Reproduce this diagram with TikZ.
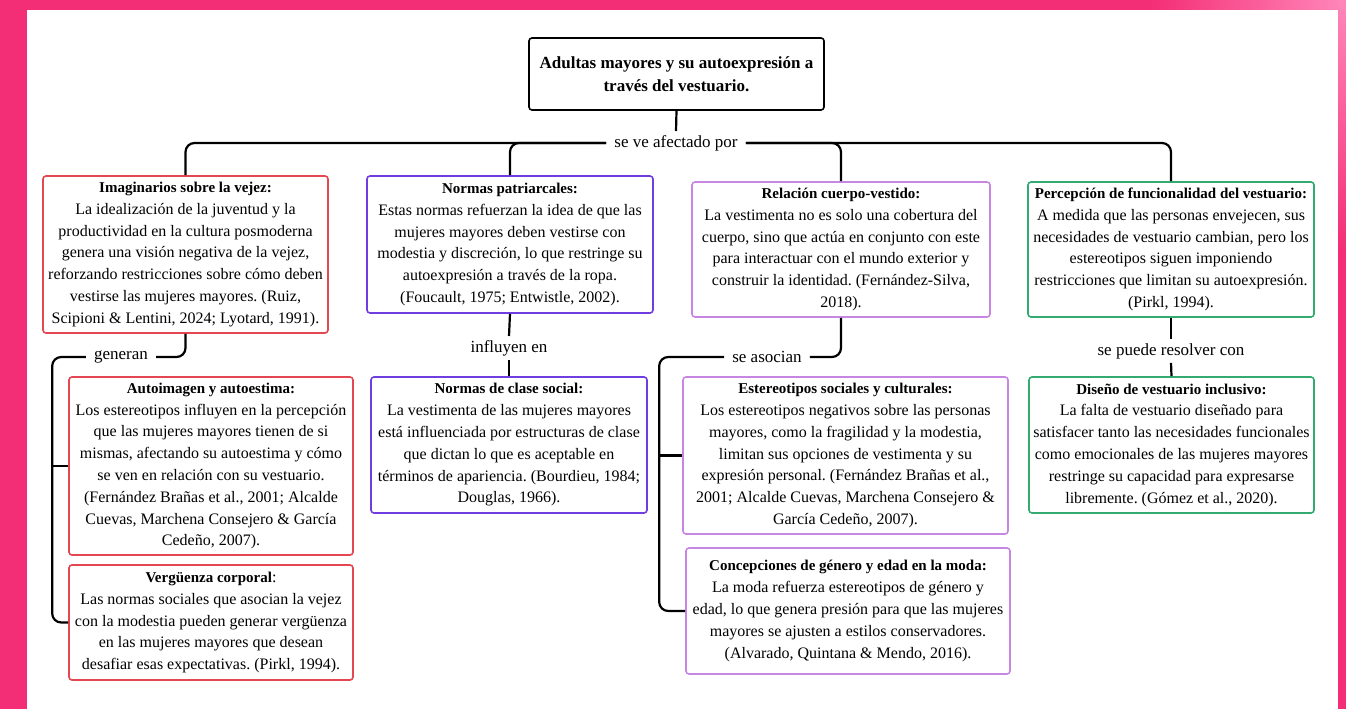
\documentclass[tikz,border=0pt]{standalone}
\usepackage{fontspec}
\setmainfont{Liberation Serif}
\usetikzlibrary{positioning}
\usetikzlibrary{calc}

\definecolor{fondo}{RGB}{244,46,118}
\definecolor{fondoclaro}{RGB}{255,135,185}
\definecolor{rojo}{RGB}{228,70,82}
\definecolor{violeta}{RGB}{112,62,224}
\definecolor{lila}{RGB}{198,134,226}
\definecolor{verde}{RGB}{50,170,112}

\newcommand{\tit}[1]{{\bfseries\fontsize{15}{21.8}\selectfont #1}}

\tikzset{
  caja/.style={draw, line width=1.6pt, rounded corners=3pt, fill=white, align=center,
    inner xsep=1pt, inner ysep=1pt, font=\fontsize{16}{21.8}\selectfont\frenchspacing},
  enlace/.style={line width=2.2pt, rounded corners=9pt},
  etiqueta/.style={fill=white, inner xsep=8pt, inner ysep=4pt, font=\fontsize{17}{20}\selectfont},
}

\begin{document}
\begin{tikzpicture}[x=1pt, y=-1pt]

\fill[fondo] (0,0) rectangle (1346,709);
\shade[left color=fondo, right color=fondoclaro] (1150,0) rectangle (1346,10);
\shade[top color=fondoclaro, bottom color=fondo] (1338,0) rectangle (1346,250);
\fill[white] (27,10) rectangle (1338,709);
\useasboundingbox (0,0) rectangle (1346,709);

\node[caja, draw=black, minimum width=295pt, minimum height=72pt,
  font=\bfseries\fontsize{17}{23}\selectfont] (raiz) at (676.5,74)
  {Adultas mayores y su autoexpresión a\\través del vestuario.};

\node[etiqueta] (sva) at (676,143) {se ve afectado por};

% primer nivel
\node[caja, draw=rojo, minimum width=285pt, minimum height=157pt] (imag) at (185.5,254.5)
  {\tit{Imaginarios sobre la vejez:}\\
   La idealización de la juventud y la\\
   productividad en la cultura posmoderna\\
   genera una visión negativa de la vejez,\\
   reforzando restricciones sobre cómo deben\\
   vestirse las mujeres mayores. (Ruiz,\\
   Scipioni \& Lentini, 2024; Lyotard, 1991).};

\node[caja, draw=violeta, minimum width=286pt, minimum height=137pt] (patr) at (510,244.5)
  {\tit{Normas patriarcales:}\\
   Estas normas refuerzan la idea de que las\\
   mujeres mayores deben vestirse con\\
   modestia y discreción, lo que restringe su\\
   autoexpresión a través de la ropa.\\
   (Foucault, 1975; Entwistle, 2002).};

\node[caja, draw=lila, minimum width=298pt, minimum height=135pt] (cuer) at (841,249.5)
  {\tit{Relación cuerpo-vestido:}\\
   La vestimenta no es solo una cobertura del\\
   cuerpo, sino que actúa en conjunto con este\\
   para interactuar con el mundo exterior y\\
   construir la identidad. (Fernández-Silva,\\
   2018).};

\node[caja, draw=verde, minimum width=286pt, minimum height=135pt] (func) at (1171,249.5)
  {\tit{Percepción de funcionalidad del vestuario:}\\
   A medida que las personas envejecen, sus\\
   necesidades de vestuario cambian, pero los\\
   estereotipos siguen imponiendo\\
   restricciones que limitan su autoexpresión.\\
   (Pirkl, 1994).};

% etiquetas intermedias
\node[etiqueta] (gen) at (121,357) {generan};
\node[etiqueta] (infl) at (509,348) {influyen en};
\node[etiqueta] (asoc) at (767,357) {se asocian};
\node[etiqueta] (reso) at (1171,351) {se puede resolver con};

% segundo nivel
\node[caja, draw=rojo, minimum width=284pt, minimum height=178pt] (auto) at (211,466)
  {\tit{Autoimagen y autoestima:}\\
   Los estereotipos influyen en la percepción\\
   que las mujeres mayores tienen de si\\
   mismas, afectando su autoestima y cómo\\
   se ven en relación con su vestuario.\\
   (Fernández Brañas et al., 2001; Alcalde\\
   Cuevas, Marchena Consejero \& García\\
   Cedeño, 2007).};

\node[caja, draw=rojo, minimum width=284pt, minimum height=115pt] (verg) at (211,622.5)
  {\tit{Vergüenza corporal}:\\
   Las normas sociales que asocian la vejez\\
   con la modestia pueden generar vergüenza\\
   en las mujeres mayores que desean\\
   desafiar esas expectativas. (Pirkl, 1994).};

\node[caja, draw=violeta, minimum width=276pt, minimum height=136pt] (clas) at (509,445)
  {\tit{Normas de clase social:}\\
   La vestimenta de las mujeres mayores\\
   está influenciada por estructuras de clase\\
   que dictan lo que es aceptable en\\
   términos de apariencia. (Bourdieu, 1984;\\
   Douglas, 1966).};

\node[caja, draw=lila, minimum width=325pt, minimum height=157pt] (este) at (845.5,455.5)
  {\tit{Estereotipos sociales y culturales:}\\
   Los estereotipos negativos sobre las personas\\
   mayores, como la fragilidad y la modestia,\\
   limitan sus opciones de vestimenta y su\\
   expresión personal. (Fernández Brañas et al.,\\
   2001; Alcalde Cuevas, Marchena Consejero \&\\
   García Cedeño, 2007).};

\node[caja, draw=lila, minimum width=324pt, minimum height=126pt] (conc) at (848,611)
  {\tit{Concepciones de género y edad en la moda:}\\
   La moda refuerza estereotipos de género y\\
   edad, lo que genera presión para que las mujeres\\
   mayores se ajusten a estilos conservadores.\\
   (Alvarado, Quintana \& Mendo, 2016).};

\node[caja, draw=verde, minimum width=285pt, minimum height=136pt] (dise) at (1171.5,445)
  {\tit{Diseño de vestuario inclusivo:}\\
   La falta de vestuario diseñado para\\
   satisfacer tanto las necesidades funcionales\\
   como emocionales de las mujeres mayores\\
   restringe su capacidad para expresarse\\
   libremente. (Gómez et al., 2020).};

% conectores
\draw[enlace] (raiz.south) -- (sva.north);
\draw[enlace] (sva.west) -| (imag.north);
\draw[enlace] (sva.west) -| (patr.north);
\draw[enlace] (sva.east) -| (cuer.north);
\draw[enlace] (sva.east) -| (func.north);

\coordinate (e1) at ($(auto.west)+(-16,0)$);
\draw[enlace] (imag.south) |- (gen.east);
\draw[enlace] (gen.west) -| (e1) |- (verg.west);
\draw[enlace] (e1) -- (auto.west);

\draw[enlace] (patr.south) -- (infl.north);
\draw[enlace] (infl.south) -- (clas.north);

\coordinate (e3) at ($(este.west)+(-23,0)$);
\draw[enlace] (cuer.south) |- (asoc.east);
\draw[enlace] (asoc.west) -| (e3) |- (conc.west);
\draw[enlace] (e3) -- (este.west);

\draw[enlace] (func.south) -- (reso.north);
\draw[enlace] (reso.south) -- (dise.north);

\end{tikzpicture}
\end{document}
